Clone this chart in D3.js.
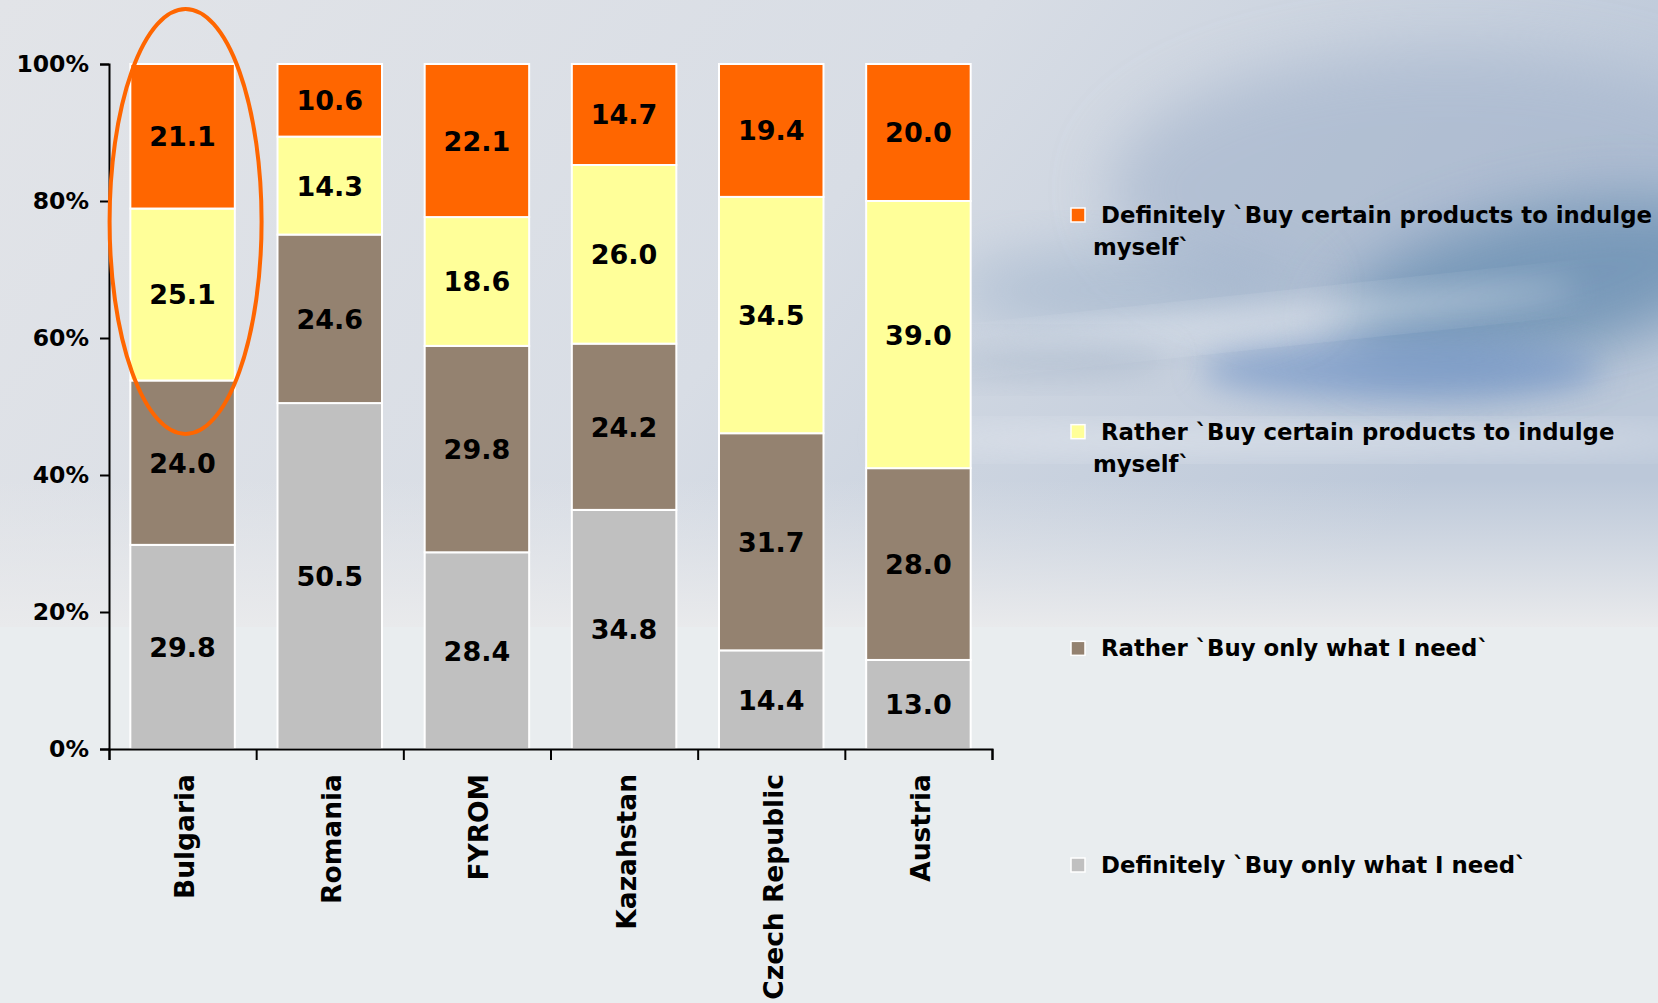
<!DOCTYPE html>
<html>
<head>
<meta charset="utf-8">
<script src="https://cdn.jsdelivr.net/npm/d3@7"></script>
<style>
  body { margin: 0; background: #E9EDEF; }
  svg { display: block; }
  text { font-family: "DejaVu Sans", Verdana, sans-serif; font-weight: bold; fill: #000; }
</style>
</head>
<body>
<div id="chart"></div>
<script>
"use strict";

// categories and series (percent answers per country)
var countries = ["Bulgaria", "Romania", "FYROM", "Kazahstan", "Czech Republic", "Austria"];
var defNeed       = [29.8, 50.5, 28.4, 34.8, 14.4, 13.0];
var ratherNeed    = [24.0, 24.6, 29.8, 24.2, 31.7, 28.0];
var ratherIndulge = [25.1, 14.3, 18.6, 26.0, 34.5, 39.0];
var defIndulge    = [21.1, 10.6, 22.1, 14.7, 19.4, 20.0];

var seriesKeys = ["defNeed", "ratherNeed", "ratherIndulge", "defIndulge"];
var seriesColors = ["#C0C0C0", "#948270", "#FFFF99", "#FF6600"];
var legendLines = [
  ["Definitely `Buy only what I need`"],
  ["Rather `Buy only what I need`"],
  ["Rather `Buy certain products to indulge", "myself`"],
  ["Definitely `Buy certain products to indulge", "myself`"]
];
var yTicks = [0, 0.2, 0.4, 0.6, 0.8, 1];

var W = 1658, H = 1003;
var margin = {top: 64, left: 109, bottom: 254, right: 666};
var width = W - margin.left - margin.right,
    height = H - margin.top - margin.bottom;

// build rows for the stack
var rows = countries.map(function(c, i) {
  return {country: c, defNeed: defNeed[i], ratherNeed: ratherNeed[i],
          ratherIndulge: ratherIndulge[i], defIndulge: defIndulge[i]};
});

var svg = d3.select("#chart").append("svg")
    .attr("width", W)
    .attr("height", H);

// ---- background (sky picture imitation)
var defs = svg.append("defs");
var skyGrad = defs.append("linearGradient").attr("id", "sky")
    .attr("x1", 0).attr("y1", 0).attr("x2", 1).attr("y2", 0.3);
skyGrad.append("stop").attr("offset", "0%").attr("stop-color", "#E2E4E8");
skyGrad.append("stop").attr("offset", "55%").attr("stop-color", "#D8DDE5");
skyGrad.append("stop").attr("offset", "100%").attr("stop-color", "#BCC8D9");
var fade = defs.append("linearGradient").attr("id", "fade")
    .attr("x1", 0).attr("y1", 0).attr("x2", 0).attr("y2", 1);
fade.append("stop").attr("offset", "0%").attr("stop-color", "#E9EAEC").attr("stop-opacity", 0);
fade.append("stop").attr("offset", "100%").attr("stop-color", "#E9EAEC").attr("stop-opacity", 1);
defs.append("filter").attr("id", "blur").attr("x", "-50%").attr("y", "-50%")
    .attr("width", "200%").attr("height", "200%")
  .append("feGaussianBlur").attr("stdDeviation", 30);
defs.append("filter").attr("id", "blurS").attr("x", "-50%").attr("y", "-50%")
    .attr("width", "200%").attr("height", "200%")
  .append("feGaussianBlur").attr("stdDeviation", 16);
defs.append("clipPath").attr("id", "skyClip")
  .append("rect").attr("width", W).attr("height", 627);

var bg = svg.append("g");
bg.append("rect").attr("width", W).attr("height", H).attr("fill", "#E9EDEF");
var sky = bg.append("g").attr("clip-path", "url(#skyClip)");
sky.append("rect").attr("width", W).attr("height", 627).attr("fill", "url(#sky)");
sky.append("ellipse").attr("cx", 1450).attr("cy", 190).attr("rx", 340).attr("ry", 140)
    .attr("fill", "#A6B6CD").attr("opacity", 0.65).attr("filter", "url(#blur)");
sky.append("ellipse").attr("cx", 1540).attr("cy", 285).attr("rx", 210).attr("ry", 75)
    .attr("fill", "#6A90B3").attr("opacity", 0.8).attr("filter", "url(#blur)")
    .attr("transform", "rotate(-12,1540,285)");
sky.append("ellipse").attr("cx", 1400).attr("cy", 370).attr("rx", 200).attr("ry", 30)
    .attr("fill", "#7798C8").attr("opacity", 0.7).attr("filter", "url(#blurS)");
sky.append("ellipse").attr("cx", 1130).attr("cy", 290).attr("rx", 180).attr("ry", 40)
    .attr("fill", "#93AAC6").attr("opacity", 0.5).attr("filter", "url(#blur)");
sky.append("ellipse").attr("cx", 1250).attr("cy", 322).attr("rx", 330).attr("ry", 14)
    .attr("fill", "#F2F4F8").attr("opacity", 0.5).attr("filter", "url(#blurS)")
    .attr("transform", "rotate(-6,1250,322)");
sky.append("ellipse").attr("cx", 1300).attr("cy", 440).attr("rx", 420).attr("ry", 12)
    .attr("fill", "#F2F4F8").attr("opacity", 0.55).attr("filter", "url(#blurS)");
sky.append("ellipse").attr("cx", 1050).attr("cy", 360).attr("rx", 120).attr("ry", 18)
    .attr("fill", "#A0B1C6").attr("opacity", 0.5).attr("filter", "url(#blurS)");
sky.append("rect").attr("y", 480).attr("width", W).attr("height", 147).attr("fill", "url(#fade)");

// ---- chart
var g = svg.append("g")
    .attr("transform", "translate(" + margin.left + "," + margin.top + ")");

var x = d3.scaleBand().domain(countries).range([0, width])
    .paddingInner(0.29).paddingOuter(0.145);
var y = d3.scaleLinear().domain([0, 1]).range([height, 0]);
var color = d3.scaleOrdinal().domain(seriesKeys).range(seriesColors);

var stacked = d3.stack().keys(seriesKeys).offset(d3.stackOffsetExpand)(rows);
var raw = {defNeed: defNeed, ratherNeed: ratherNeed,
           ratherIndulge: ratherIndulge, defIndulge: defIndulge};

var layer = g.selectAll(".layer").data(stacked).enter().append("g")
    .attr("class", "layer")
    .attr("fill", function(d) { return color(d.key); });

layer.selectAll("rect").data(function(d) { return d; }).enter().append("rect")
    .attr("x", function(d) { return x(d.data.country); })
    .attr("y", function(d) { return y(d[1]); })
    .attr("width", x.bandwidth())
    .attr("height", function(d) { return y(d[0]) - y(d[1]); })
    .attr("stroke", "#fff")
    .attr("stroke-width", 2);

layer.selectAll("text").data(function(d) {
      return d.map(function(p, i) { return {p: p, v: raw[d.key][i]}; });
    }).enter().append("text")
    .attr("x", function(d) { return x(d.p.data.country) + x.bandwidth() / 2; })
    .attr("y", function(d) { return (y(d.p[0]) + y(d.p[1])) / 2; })
    .attr("dy", "0.37em")
    .attr("text-anchor", "middle")
    .style("font-size", "27px")
    .text(function(d) { return d3.format(".1f")(d.v); });

// y axis
var yAxis = g.append("g")
    .call(d3.axisLeft(y).tickValues(yTicks).tickFormat(d3.format(".0%"))
      .tickSize(9).tickPadding(11));
yAxis.selectAll("text").style("font-size", "23.5px")
    .style("font-family", "'DejaVu Sans', Verdana, sans-serif");
yAxis.selectAll("path, line").attr("stroke", "#000").attr("stroke-width", 2);

// x axis: ticks on category boundaries
var xb = d3.scaleLinear().domain([0, countries.length]).range([0, width]);
var xAxis = g.append("g")
    .attr("transform", "translate(0," + height + ")")
    .call(d3.axisBottom(xb).ticks(countries.length).tickFormat("").tickSize(11).tickSizeOuter(11));
xAxis.selectAll("path, line").attr("stroke", "#000").attr("stroke-width", 2);

g.selectAll(".cat").data(countries).enter().append("text")
    .attr("class", "cat")
    .attr("transform", function(d) {
      return "translate(" + (x(d) + x.bandwidth() / 2 + 2) + "," + (height + 25) + ") rotate(-90)";
    })
    .attr("dy", "0.36em")
    .attr("text-anchor", "end")
    .style("font-size", "26.5px")
    .text(function(d) { return d; });

// highlight ellipse around Bulgaria
g.append("ellipse")
    .attr("cx", x(countries[0]) + x.bandwidth() / 2 + 3)
    .attr("cy", (y(1) - 55 + y(0.46)) / 2)
    .attr("rx", 76)
    .attr("ry", (y(0.46) - y(1) + 55) / 2)
    .attr("fill", "none")
    .attr("stroke", "#FF6600")
    .attr("stroke-width", 4);

// ---- legend (top item = last series)
var legendY = d3.scaleLinear().domain([3, 0]).range([223, 873]);
var legend = svg.selectAll(".legend").data(seriesKeys).enter().append("g")
    .attr("class", "legend")
    .attr("transform", function(d, i) { return "translate(1071," + legendY(i) + ")"; });

legend.append("rect")
    .attr("y", -15)
    .attr("width", 14)
    .attr("height", 14)
    .attr("fill", function(d) { return color(d); })
    .attr("stroke", "#fff")
    .attr("stroke-width", 1.5);

legend.append("text")
    .style("font-size", "22.8px")
    .selectAll("tspan").data(function(d, i) { return legendLines[i]; }).enter().append("tspan")
    .attr("x", function(d, j) { return j === 0 ? 30 : 22; })
    .attr("y", function(d, j) { return j * 32; })
    .text(function(d) { return d; });
</script>
</body>
</html>
